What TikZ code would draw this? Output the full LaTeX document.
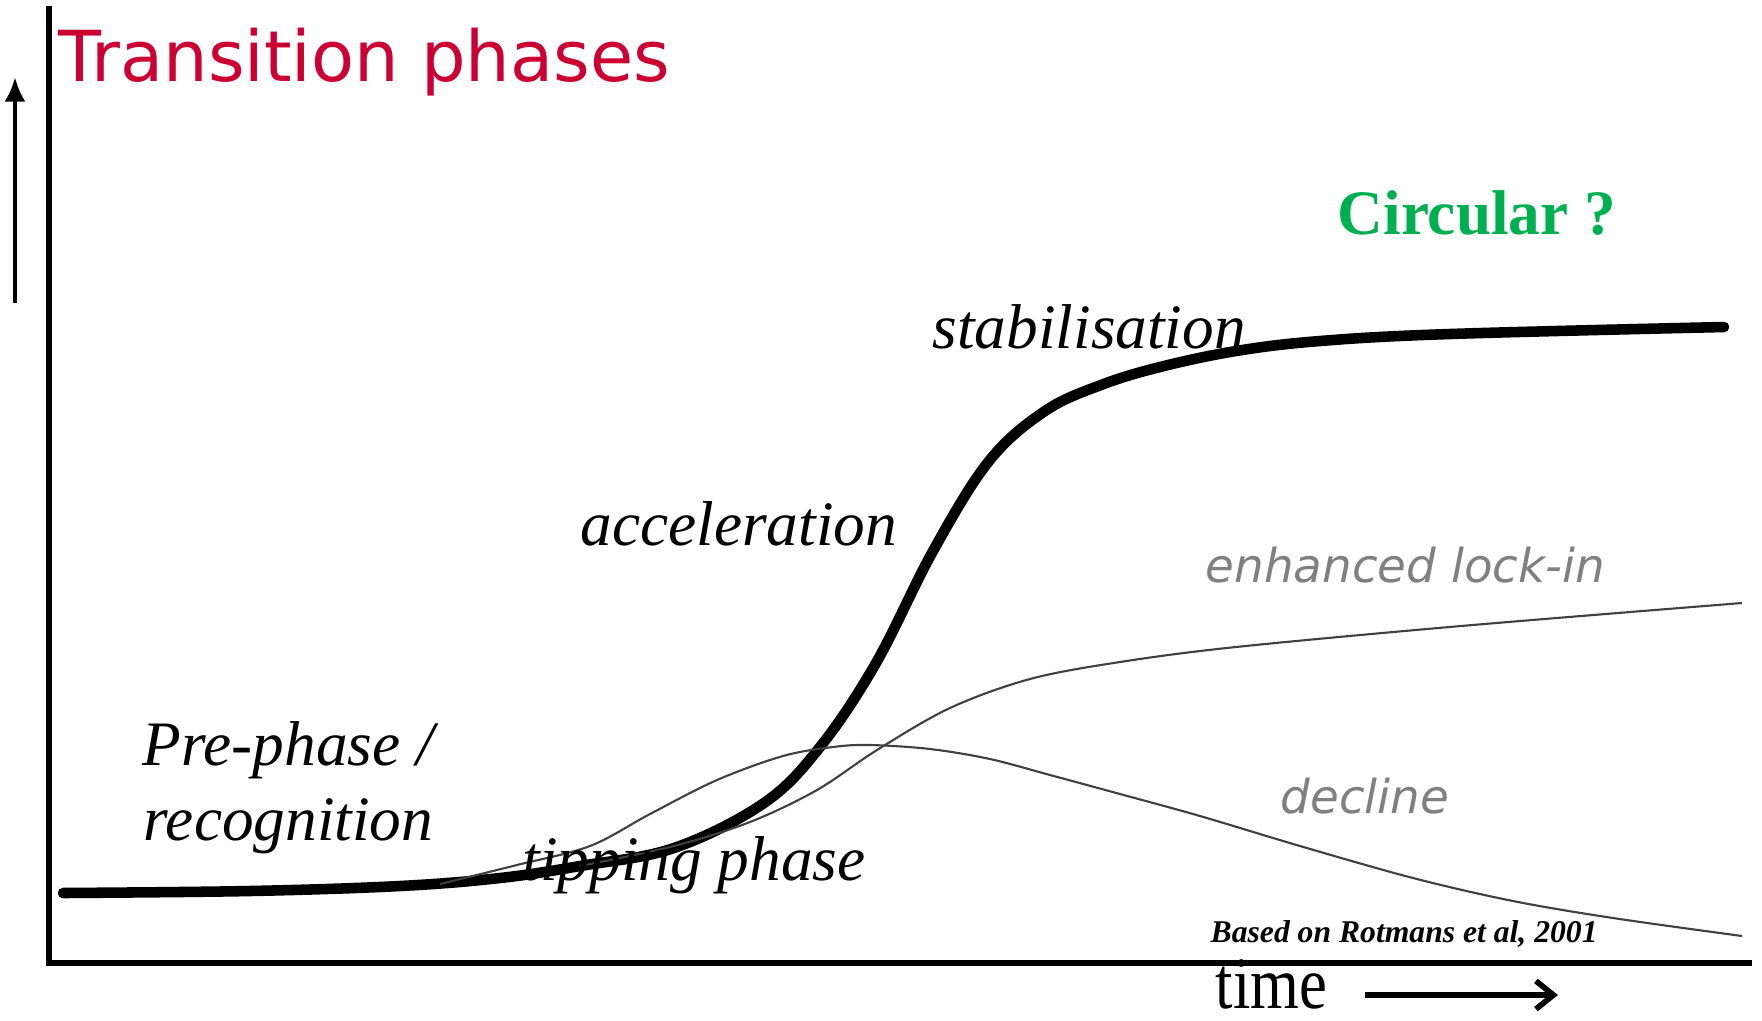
\documentclass[tikz,border=0pt]{standalone}
\usepackage{fontspec}
\setmainfont{Liberation Serif}
\newfontfamily\verdanafont{DejaVu Sans}
\usetikzlibrary{arrows.meta}
\definecolor{titlered}{RGB}{204,0,51}
\definecolor{circgreen}{RGB}{0,176,80}
\definecolor{branchgray}{RGB}{128,128,128}

\begin{document}
\begin{tikzpicture}[x=0.01cm, y=-0.01cm]
    \tikzstyle{phase}=[inner sep=0pt, anchor=base west, font=\fontsize{18}{22}\selectfont\itshape]
    \tikzstyle{branch label}=[inner sep=0pt, anchor=base west, text=branchgray, font=\verdanafont\fontsize{13.3}{16}\selectfont\itshape]
    \tikzstyle{axis}=[line width=1.5pt]
    \tikzstyle{main curve}=[line width=3pt, line cap=round, line join=round]
    \tikzstyle{branch curve}=[line width=0.6pt, black!75]

    \useasboundingbox (0,0) rectangle (1762,1020);

    % Draw the axes
    \coordinate (top) at (49,6);
    \coordinate (origin) at (49,963);
    \coordinate (end) at (1752,963);
    \draw[axis] (top) -- (origin) -- (end);

    % Arrows along the axes
    \coordinate (up-start) at (15,303);
    \coordinate (up-end) at (15,77);
    \draw[line width=1.3pt, -{Latex[length=7pt,width=6pt]}] (up-start) -- (up-end);
    \node[inner sep=0pt, anchor=base west, font=\fontsize{21}{24}\selectfont] (time) at (1215,1008) {\scalebox{0.85}[1]{time}};
    \coordinate (time-end) at (1558,995);
    \draw[line width=1.6pt, -{Straight Barb[length=5pt,width=8pt]}] (time.east |- time-end) ++(37,0) -- (time-end);

    % The transition curve
    \draw[main curve] plot[smooth, tension=0.6] coordinates {(63,893) (250,891) (400,886) (500,878) (580,866) (674,848) (764,803) (820,747) (876,663) (933,551) (989,461) (1045,411) (1101,385) (1160,367) (1236,351) (1320,341) (1450,334) (1724,327)};

    % Branches: decline and enhanced lock-in
    \draw[branch curve] plot[smooth, tension=0.55] coordinates {(440,884) (517,865) (590,846) (650,814) (717,780) (783,756) (833,747) (870,745) (930,749) (990,759) (1050,775) (1120,794) (1200,816) (1300,846) (1413,878) (1513,901) (1613,918) (1742,936)};
    \draw[branch curve] plot[smooth, tension=0.55] coordinates {(580,866) (674,846) (750,822) (817,790) (877,750) (950,708) (1030,679) (1120,662) (1236,647) (1461,626) (1742,603)};

    % Annotate the phases
    \node[inner sep=0pt, anchor=base west, text=titlered, font=\verdanafont\fontsize{20}{24}\selectfont] (title) at (58,81) {Transition phases};
    \node[inner sep=0pt, anchor=base west, text=circgreen, font=\fontsize{18}{22}\selectfont\bfseries] (circ) at (1337,234) {Circular ?};
    \node[phase] (pre) at (142,765) {Pre-phase /};
    \node[phase] (recog) at (143,840) {recognition};
    \foreach \name/\x/\y/\txt in {tip/522/880/tipping phase, acc/580/545/acceleration, stab/932/348/stabilisation}
        \node[phase] (\name) at (\x,\y) {\txt};
    \node[branch label] (lockin) at (1205,582) {enhanced lock-in};
    \node[branch label] (decl) at (1280,813) {decline};
    \node[inner sep=0pt, anchor=base west, font=\fontsize{9}{11}\selectfont\bfseries\itshape] (source) at (1210,942) {Based on Rotmans et al, 2001};
\end{tikzpicture}
\end{document}
